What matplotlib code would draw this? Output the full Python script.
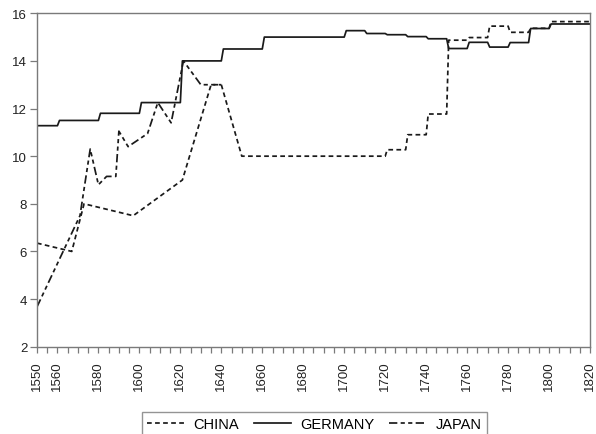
import matplotlib

matplotlib.use("Agg")
import matplotlib.pyplot as plt

plt.rcParams["font.family"] = ["Liberation Sans", "DejaVu Sans"]
plt.rcParams["lines.scale_dashes"] = False

# China: short dashes
china_years = [1550, 1567, 1573, 1597, 1621, 1635, 1640, 1650, 1720, 1721, 1730, 1731,
               1740, 1741, 1750, 1751, 1760, 1761, 1770, 1771, 1780, 1781, 1790, 1791,
               1800, 1801, 1820]
china_vals = [6.35, 6.0, 8.0, 7.5, 9.0, 13.0, 13.0, 10.0, 10.0, 10.27, 10.27, 10.9,
              10.9, 11.77, 11.77, 14.87, 14.87, 14.98, 14.98, 15.46, 15.46, 15.2, 15.2, 15.37,
              15.37, 15.65, 15.65]

# Germany: solid
germany_years = [1550, 1560, 1561, 1580, 1581, 1600, 1601, 1620, 1621, 1640, 1641, 1660,
                 1661, 1700, 1701, 1710, 1711, 1720, 1721, 1730, 1731, 1740, 1741, 1750,
                 1751, 1760, 1761, 1770, 1771, 1780, 1781, 1790, 1791, 1800, 1801, 1820]
germany_vals = [11.28, 11.28, 11.5, 11.5, 11.8, 11.8, 12.25, 12.25, 14.0, 14.0, 14.5, 14.5,
                15.0, 15.0, 15.27, 15.27, 15.15, 15.15, 15.1, 15.1, 15.02, 15.02, 14.93, 14.93,
                14.52, 14.52, 14.78, 14.78, 14.58, 14.58, 14.77, 14.77, 15.36, 15.36, 15.55, 15.55]

# Japan: long-short dashes
japan_years = [1550, 1571, 1576, 1580, 1584, 1588.5, 1590, 1594.5, 1604, 1609, 1615.5,
               1621.5, 1630, 1640]
japan_vals = [3.67, 7.5, 10.3, 8.8, 9.15, 9.15, 11.05, 10.4, 10.95, 12.25, 11.4,
              14.0, 13.0, 13.0]

xtick_years = [1550, 1560] + list(range(1580, 1821, 20))

fig = plt.figure(figsize=(5.96, 4.35), dpi=100)
ax = fig.add_axes([0.062, 0.2007, 0.928, 0.7665])

ln = "#1a1a1a"
ax.plot(china_years, china_vals, color=ln, lw=1.25, dashes=(3.4, 2.4), label="CHINA")
ax.plot(germany_years, germany_vals, color=ln, lw=1.25, label="GERMANY")
ax.plot(japan_years, japan_vals, color=ln, lw=1.25, dashes=(6.0, 2.4, 3.0, 2.4, 3.0, 2.4),
        label="JAPAN")

ax.set_xlim(1550, 1820)
ax.set_ylim(2, 16)
ax.set_yticks(range(2, 17, 2))
ax.set_xticks(xtick_years)
ax.set_xticks(range(1550, 1821, 5), minor=True)
ax.set_xticklabels([str(y) for y in xtick_years], rotation=90)

frame = "#7a7a7a"
for s in ax.spines.values():
    s.set_color(frame)
    s.set_linewidth(1.0)
ax.tick_params(axis="both", which="both", direction="out", color=frame, length=4,
               width=0.9, labelsize=9.5, labelcolor="#222222", pad=2)
ax.tick_params(axis="x", which="major", pad=6)
ax.tick_params(axis="y", length=5)

leg = fig.legend(loc="upper center", bbox_to_anchor=(0.527, 0.068), ncol=3, frameon=True,
                 fontsize=10.5, handlelength=2.6, columnspacing=1.0, handletextpad=0.6,
                 borderpad=0.35, fancybox=False)
leg.get_frame().set_edgecolor(frame)
leg.get_frame().set_linewidth(1.0)

fig.savefig("out.png", dpi=100)
